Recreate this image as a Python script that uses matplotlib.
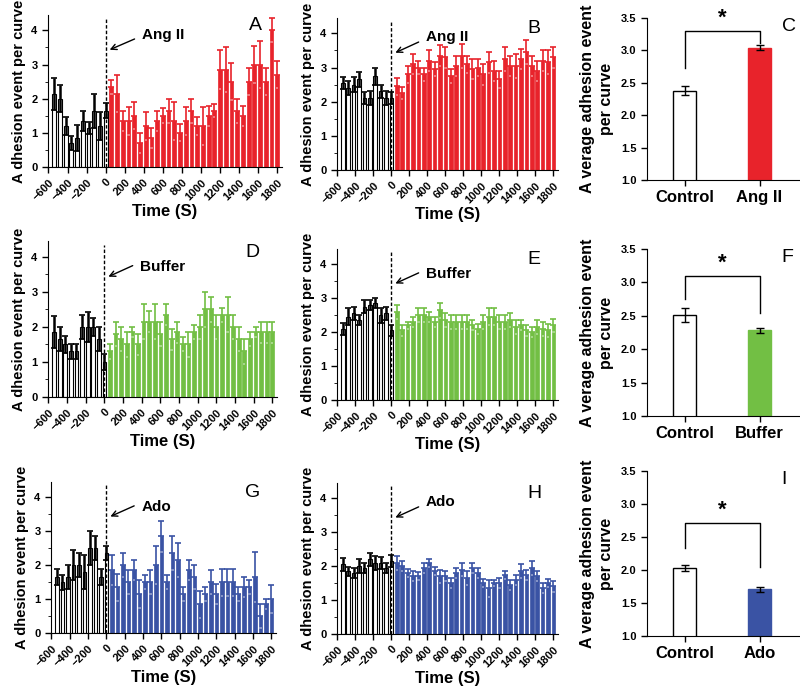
import numpy as np
import matplotlib
matplotlib.use('Agg')
import matplotlib.pyplot as plt
from matplotlib.ticker import MultipleLocator

plt.rcParams['font.family'] = ['Liberation Sans', 'DejaVu Sans']

# time points (s)
ctrl_t = [-540, -480, -420, -360, -300, -240, -180, -120, -60, 0]
treat_t = list(range(60, 1801, 60))

# panel A (Ang II, first series)
a_ctrl = [2.15, 2.0, 1.2, 0.7, 0.85, 1.35, 1.15, 1.65, 1.2, 1.65]
a_ctrl_err = [0.47, 0.4, 0.25, 0.2, 0.38, 0.3, 0.17, 0.5, 0.4, 0.23]
a_treat = [2.35, 2.15, 1.35, 1.35, 1.5, 0.7, 1.2, 0.85, 1.35, 1.5,
           1.65, 1.35, 1.0, 1.35, 1.65, 1.2, 1.2, 1.5, 1.65, 2.85,
           2.85, 2.5, 1.65, 1.5, 2.5, 3.0, 3.0, 2.5, 4.0, 2.7]
a_treat_err = [0.2, 0.55, 0.3, 0.4, 0.4, 0.3, 0.42, 0.3, 0.3, 0.22,
               0.35, 0.55, 0.25, 0.4, 0.35, 0.25, 0.55, 0.3, 0.2, 0.57,
               0.65, 0.55, 0.35, 0.3, 0.4, 0.55, 0.7, 0.4, 0.35, 0.4]

# panel B (Ang II, second series)
b_ctrl = [2.55, 2.4, 2.5, 2.65, 2.1, 2.1, 2.75, 2.3, 2.1, 2.1]
b_ctrl_err = [0.17, 0.2, 0.22, 0.22, 0.17, 0.2, 0.25, 0.2, 0.2, 0.18]
b_treat = [2.45, 2.25, 2.8, 3.1, 3.0, 2.8, 3.2, 2.95, 3.35, 3.3,
           2.75, 3.05, 3.35, 3.1, 2.95, 3.0, 2.8, 3.15, 2.9, 2.65,
           3.25, 3.05, 3.05, 3.25, 3.45, 3.05, 2.9, 3.2, 3.15, 3.3]
b_treat_err = [0.25, 0.18, 0.25, 0.3, 0.2, 0.2, 0.3, 0.2, 0.3, 0.3,
               0.2, 0.3, 0.35, 0.25, 0.3, 0.25, 0.3, 0.3, 0.3, 0.25,
               0.35, 0.3, 0.35, 0.3, 0.35, 0.3, 0.3, 0.3, 0.35, 0.3]

# panel D (Buffer)
d_ctrl = [1.85, 1.65, 1.5, 1.3, 1.3, 2.0, 2.0, 2.0, 1.65, 1.0]
d_ctrl_err = [0.45, 0.35, 0.25, 0.22, 0.22, 0.35, 0.42, 0.25, 0.35, 0.22]
d_treat = [1.3, 1.8, 1.65, 1.5, 1.85, 1.5, 2.15, 2.15, 2.15, 1.8,
           2.35, 1.65, 1.85, 1.5, 1.5, 1.85, 2.0, 2.5, 2.5, 2.0,
           2.35, 2.35, 2.0, 1.65, 1.3, 1.65, 1.85, 1.85, 1.85, 1.85]
d_treat_err = [0.22, 0.35, 0.35, 0.35, 0.15, 0.3, 0.5, 0.3, 0.5, 0.35,
               0.3, 0.3, 0.3, 0.2, 0.35, 0.2, 0.35, 0.5, 0.35, 0.35,
               0.2, 0.5, 0.35, 0.35, 0.35, 0.2, 0.15, 0.3, 0.3, 0.3]

# panel E (Buffer)
e_ctrl = [2.1, 2.45, 2.55, 2.35, 2.75, 2.8, 2.85, 2.5, 2.55, 2.05]
e_ctrl_err = [0.18, 0.25, 0.2, 0.15, 0.2, 0.15, 0.15, 0.22, 0.2, 0.17]
e_treat = [2.6, 2.05, 2.2, 2.3, 2.5, 2.5, 2.45, 2.3, 2.65, 2.35,
           2.3, 2.3, 2.3, 2.3, 2.2, 2.1, 2.3, 2.45, 2.45, 2.3,
           2.3, 2.35, 2.15, 2.2, 2.05, 2.0, 2.15, 2.1, 2.05, 2.2]
e_treat_err = [0.2, 0.15, 0.1, 0.15, 0.2, 0.2, 0.15, 0.15, 0.22, 0.2,
               0.2, 0.2, 0.2, 0.2, 0.15, 0.15, 0.2, 0.25, 0.25, 0.2,
               0.2, 0.2, 0.2, 0.15, 0.15, 0.15, 0.2, 0.2, 0.2, 0.2]

# panel G (Ado)
g_ctrl = [1.65, 1.5, 1.65, 2.0, 2.0, 1.8, 2.5, 2.5, 1.65, 2.35]
g_ctrl_err = [0.23, 0.22, 0.35, 0.45, 0.35, 0.5, 0.5, 0.35, 0.23, 0.2]
g_treat = [1.85, 1.35, 2.0, 1.5, 1.85, 1.15, 1.5, 1.5, 2.0, 2.85,
           1.5, 2.35, 2.15, 1.15, 1.85, 1.65, 0.85, 1.15, 1.5, 1.15,
           1.5, 1.5, 1.5, 1.15, 1.35, 1.35, 1.65, 0.5, 0.85, 1.0]
g_treat_err = [0.45, 0.4, 0.35, 0.35, 0.3, 0.4, 0.2, 0.35, 0.55, 0.45,
               0.2, 0.5, 0.5, 0.2, 0.3, 0.35, 0.4, 0.2, 0.35, 0.3,
               0.4, 0.4, 0.4, 0.2, 0.3, 0.2, 0.75, 0.35, 0.15, 0.4]

# panel H (Ado)
h_ctrl = [2.05, 1.85, 1.8, 2.0, 1.95, 2.2, 2.1, 2.1, 1.95, 2.15]
h_ctrl_err = [0.2, 0.13, 0.15, 0.2, 0.15, 0.2, 0.2, 0.17, 0.15, 0.17]
h_treat = [2.1, 2.0, 1.8, 1.7, 1.7, 1.95, 2.1, 1.85, 1.7, 1.7,
           1.5, 1.8, 1.9, 1.65, 1.95, 1.8, 1.5, 1.35, 1.5, 1.5,
           1.75, 1.45, 1.6, 1.85, 1.75, 1.95, 1.7, 1.35, 1.5, 1.4]
h_treat_err = [0.2, 0.15, 0.12, 0.15, 0.12, 0.15, 0.12, 0.12, 0.2, 0.15,
               0.15, 0.15, 0.2, 0.2, 0.15, 0.15, 0.12, 0.25, 0.1, 0.15,
               0.12, 0.15, 0.15, 0.2, 0.15, 0.2, 0.15, 0.15, 0.12, 0.15]

# summary panels C, F, I
c_labels = ['Control', 'Ang II']
c_means = [2.38, 3.04]
c_err = [0.07, 0.04]
f_labels = ['Control', 'Buffer']
f_means = [2.51, 2.28]
f_err = [0.1, 0.03]
i_labels = ['Control', 'Ado']
i_means = [2.03, 1.71]
i_err = [0.05, 0.04]

RED = '#e8232b'
GREEN = '#72bf44'
BLUE = '#3a53a4'

W, H = 800, 693
fig = plt.figure(figsize=(W / 100, H / 100), dpi=100)


def ax_px(left, top, right, bottom):
    # axes from pixel box
    return fig.add_axes([left / W, 1 - bottom / H, (right - left) / W, (bottom - top) / H])


def light(c, f=0.45):
    rgb = np.array(matplotlib.colors.to_rgb(c))
    return tuple(rgb + (1 - rgb) * f)


def draw_time(ax, ctrl, ctrl_err, treat, treat_err, color, drug, letter, txt_pos):
    ax.bar(ctrl_t, ctrl, width=40, color='white', edgecolor='black', linewidth=0.8)
    ax.errorbar(ctrl_t, ctrl, yerr=ctrl_err, fmt='none', ecolor='black',
                elinewidth=1.8, capsize=2.5, capthick=1.2)
    ax.bar(treat_t, treat, width=40, color=color, edgecolor=color, linewidth=0.5)
    # upper error only, drawn in bar colour
    ax.errorbar(treat_t, treat, yerr=[[0] * len(treat_err), treat_err], fmt='none',
                ecolor=color, elinewidth=1.2, capsize=2.5, capthick=1.2)
    # lower caps show lighter inside the bar
    ax.errorbar(treat_t, np.array(treat) - np.array(treat_err), fmt='none',
                xerr=12, ecolor=light(color), elinewidth=1.2)
    ax.plot([0, 0], [0, 4.35], ls='--', color='black', lw=1, dashes=(2.5, 1.5))
    ax.annotate('', xy=(15, 3.4), xytext=(330, 3.78),
                arrowprops=dict(arrowstyle='->', color='black', lw=1))
    ax.text(txt_pos[0], txt_pos[1], drug, fontsize=11, fontweight='bold', va='center')
    ax.text(0.86, 0.9, letter, transform=ax.transAxes, fontsize=14, ha='left')
    ax.set_xlim(-605, 1850)
    ax.set_ylim(0, 4.45)
    ax.set_xticks(range(-600, 1801, 200))
    ax.set_xticklabels([str(v).replace('-', '\u2212') for v in range(-600, 1801, 200)],
                       rotation=45, ha='right', rotation_mode='anchor',
                       fontsize=8, fontweight='bold')
    ax.set_yticks([0, 1, 2, 3, 4])
    ax.yaxis.set_minor_locator(MultipleLocator(0.5))
    for lab in ax.get_yticklabels():
        lab.set_fontweight('bold')
        lab.set_fontsize(8)
    ax.spines['top'].set_visible(False)
    ax.spines['right'].set_visible(False)
    ax.tick_params(length=4, width=1, direction='out')
    ax.tick_params(which='minor', length=2)
    ax.set_xlabel('Time (S)', fontsize=12, fontweight='bold', labelpad=1)
    ax.set_ylabel('A dhesion event per curve', fontsize=10.5, fontweight='bold', labelpad=4)


def draw_summary(ax, labels, means, err, color, letter, bracket, low):
    ax.bar([0, 1], means, width=0.3, color=['white', color],
           edgecolor=['black', color], linewidth=1)
    ax.errorbar([0, 1], means, yerr=err, fmt='none', ecolor='black',
                elinewidth=1, capsize=3, capthick=1)
    ax.plot([0, 0, 1, 1], [low[0], bracket, bracket, low[1]], color='black', lw=1)
    ax.text(0.5, bracket + 0.03, '*', ha='center', va='bottom', fontsize=16, fontweight='bold')
    ax.text(0.88, 0.92, letter, transform=ax.transAxes, fontsize=14)
    ax.set_xlim(-0.5, 1.54)
    ax.set_ylim(1.0, 3.5)
    ax.set_xticks([0, 1])
    ax.set_xticklabels(labels, fontsize=12, fontweight='bold')
    ax.set_yticks(np.arange(1.0, 3.51, 0.5))
    ax.set_yticklabels(['%.1f' % v for v in np.arange(1.0, 3.51, 0.5)],
                       fontsize=8, fontweight='bold')
    ax.spines['top'].set_visible(False)
    ax.spines['right'].set_visible(False)
    ax.tick_params(length=4, width=1, direction='out')
    ax.set_ylabel('A verage adhesion event\nper curve', fontsize=11.5, fontweight='bold',
                  labelpad=5, linespacing=1.3)


# row 1
axA = ax_px(48, 15, 282, 167)
draw_time(axA, a_ctrl, a_ctrl_err, a_treat, a_treat_err, RED, 'Ang II', 'A', (380, 3.85))
axB = ax_px(337, 18, 558, 170)
draw_time(axB, b_ctrl, b_ctrl_err, b_treat, b_treat_err, RED, 'Ang II', 'B', (380, 3.9))
axC = ax_px(647, 18, 800, 180)
draw_summary(axC, c_labels, c_means, c_err, RED, 'C', 3.3, (2.73, 3.11))

# row 2
axD = ax_px(48, 241, 277, 397)
draw_time(axD, d_ctrl, d_ctrl_err, d_treat, d_treat_err, GREEN, 'Buffer', 'D', (380, 3.7))
axE = ax_px(337, 249, 558, 400)
draw_time(axE, e_ctrl, e_ctrl_err, e_treat, e_treat_err, GREEN, 'Buffer', 'E', (380, 3.7))
axF = ax_px(647, 249, 800, 416)
draw_summary(axF, f_labels, f_means, f_err, GREEN, 'F', 3.1, (2.75, 2.54))

# row 3
axG = ax_px(51, 482, 276, 633)
draw_time(axG, g_ctrl, g_ctrl_err, g_treat, g_treat_err, BLUE, 'Ado', 'G', (380, 3.7))
axH = ax_px(337, 483, 558, 634)
draw_time(axH, h_ctrl, h_ctrl_err, h_treat, h_treat_err, BLUE, 'Ado', 'H', (380, 3.9))
axI = ax_px(647, 471, 800, 636)
draw_summary(axI, i_labels, i_means, i_err, BLUE, 'I', 2.71, (2.33, 2.05))

fig.savefig('out.png', dpi=100)
